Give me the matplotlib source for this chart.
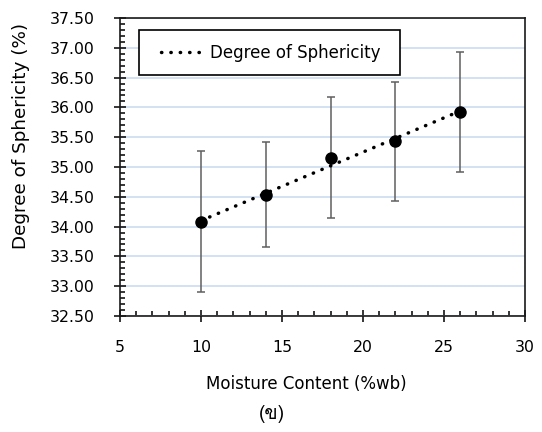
import numpy as np
import matplotlib
matplotlib.use("Agg")
import matplotlib.pyplot as plt
from matplotlib.ticker import MultipleLocator, FormatStrFormatter
from matplotlib.patches import Rectangle
from matplotlib import font_manager as fm
from matplotlib.ft2font import FT2Font

# ---- data ----
moisture = [10, 14, 18, 22, 26]
sphericity = [34.07, 34.53, 35.15, 35.43, 35.92]
err_low = [1.17, 0.88, 1.01, 1.00, 1.00]
err_high = [1.20, 0.89, 1.02, 1.00, 1.01]
series_label = "Degree of Sphericity"
x_label = "Moisture Content (%wb)"
y_label = "Degree of Sphericity (%)"
panel_label = "(ข)"

# find a font with Thai glyphs
thai_font = None
for f in fm.fontManager.ttflist:
    try:
        if 0x0E02 in FT2Font(f.fname).get_charmap():
            thai_font = f.name
            break
    except Exception:
        pass
panel_family = [thai_font, "DejaVu Sans"] if thai_font else ["DejaVu Sans"]

plt.rcParams["font.family"] = ["DejaVu Sans"]

W, H = 542, 432
fig = plt.figure(figsize=(W / 100, H / 100), dpi=100)
ax = fig.add_axes([120 / W, 1 - 316 / H, (525 - 120) / W, (316 - 18) / H])

ax.set_xlim(5, 30)
ax.set_ylim(32.5, 37.5)

# grid
ax.yaxis.grid(True, which="major", color="#c6d9f0", linewidth=1.1)
ax.set_axisbelow(True)

# error bars + markers
ax.errorbar(moisture, sphericity, yerr=[err_low, err_high], fmt="none",
            ecolor="#5f5f5f", elinewidth=1.1, capsize=2.6, capthick=1.1, zorder=3)
ax.plot(moisture, sphericity, "o", color="black", markersize=8.0, zorder=4)

# linear trendline (dotted)
coef = np.polyfit(moisture, sphericity, 1)
xt = np.array([min(moisture), max(moisture)])
ax.plot(xt, np.polyval(coef, xt), color="black", linewidth=2.5,
        linestyle=(0, (0.1, 2.6)), dash_capstyle="round", zorder=5,
        label=series_label)

# ticks
ax.xaxis.set_major_locator(MultipleLocator(5))
ax.xaxis.set_minor_locator(MultipleLocator(1))
ax.yaxis.set_major_locator(MultipleLocator(0.5))
ax.yaxis.set_minor_locator(MultipleLocator(0.1))
ax.yaxis.set_major_formatter(FormatStrFormatter("%.2f"))
ax.tick_params(which="major", direction="inout", length=8.5, width=1.1,
               color="black", labelsize=11.3, labelcolor="black")
ax.tick_params(axis="x", which="major", pad=13)
ax.tick_params(axis="y", which="major", pad=14)
ax.tick_params(which="minor", direction="in", length=3.5, width=1.1, color="black")

for s in ax.spines.values():
    s.set_linewidth(1.2)
    s.set_color("#1a1a1a")

# legend box
ax.add_patch(Rectangle((19 / 405, (316 - 75) / 298), (400 - 139) / 405, 45 / 298,
                       transform=ax.transAxes, fill=True, facecolor="white",
                       edgecolor="black", linewidth=1.2, zorder=6))
leg = ax.legend(loc="center", bbox_to_anchor=(0.373, 0.884), frameon=False,
                fontsize=12, handlelength=2.5, handletextpad=0.45,
                borderpad=0, borderaxespad=0)
leg.set_zorder(7)

# labels
fig.text(306 / W, 1 - 384 / H, x_label, ha="center", va="center", fontsize=12)
fig.text(21.5 / W, 1 - 136 / H, y_label, ha="center", va="center",
         rotation=90, fontsize=13.2)
fig.text(272 / W, 1 - 414 / H, panel_label, ha="center", va="center",
         fontsize=14, family=panel_family)

fig.savefig("out.png", dpi=100, facecolor="white")
